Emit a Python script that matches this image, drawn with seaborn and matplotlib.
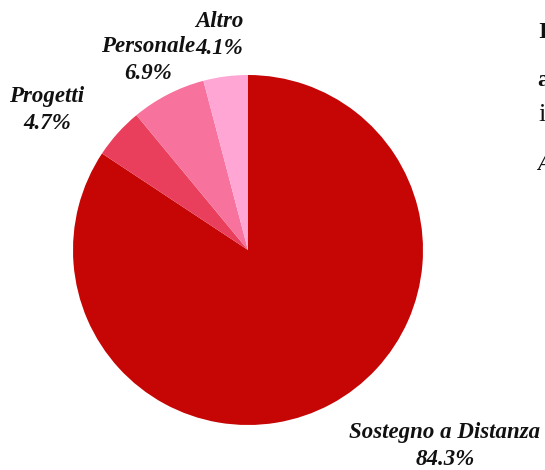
import matplotlib
matplotlib.use("Agg")
import matplotlib.pyplot as plt
import seaborn as sns

sns.set_theme(style="white")
plt.rcParams['font.family'] = ['Liberation Serif', 'DejaVu Serif']

# dati
categorie = ["Sostegno a Distanza", "Progetti", "Personale", "Altro"]
percentuali = [84.3, 4.7, 6.9, 4.1]
colori = ["#c60505", "#ea3f5c", "#f7729c", "#ffa6d5"]

# conversione pixel -> coordinate del grafico (centro torta 248,250 px, raggio 175 px)
def px(x, y):
    return (x - 248) / 175, (250 - y) / 175

fig = plt.figure(figsize=(5.45, 4.70), dpi=100)
ax = fig.add_axes([0, 0, 1, 1])

ax.pie(percentuali, colors=colori, startangle=90, counterclock=False,
       radius=1.0, wedgeprops=dict(linewidth=0))

# etichette
pos_etichette = [px(445, 446), px(47, 110), px(148, 60), px(219, 35)]
for nome, val, (x, y) in zip(categorie, percentuali, pos_etichette):
    ax.text(x, y, f"{nome}\n{val}%", ha="center", va="center",
            fontsize=16.5, fontweight="bold", fontstyle="italic",
            color="#111111", linespacing=1.4)

# testo a destra, tagliato dal bordo come nell'originale
ax.text(*px(538, 32), "I", ha="left", va="center", fontsize=17,
        fontweight="bold", color="#111111", clip_on=False)
ax.text(*px(537, 80), "a", ha="left", va="center", fontsize=17,
        fontweight="bold", color="#111111", clip_on=False)
ax.text(*px(538, 115), "i", ha="left", va="center", fontsize=19,
        color="#111111", clip_on=False)
ax.text(*px(537, 165), "A", ha="left", va="center", fontsize=15,
        fontstyle="italic", fontweight="bold", color="#111111", clip_on=False)

ax.set_xlim(-248 / 175, (545 - 248) / 175)
ax.set_ylim(-(470 - 250) / 175, 250 / 175)
ax.set_aspect("equal")
ax.axis("off")

fig.savefig("out.png", dpi=100)
